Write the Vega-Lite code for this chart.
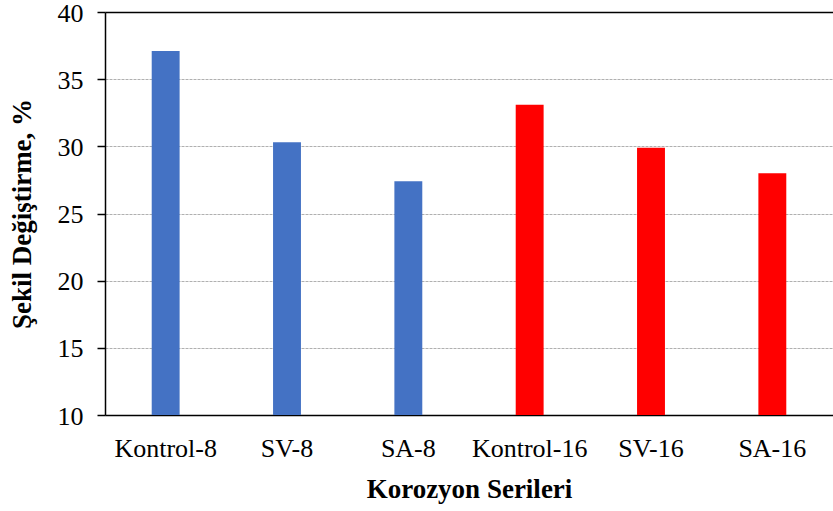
{
  "$schema": "https://vega.github.io/schema/vega-lite/v6.json",
  "width": 728,
  "height": 403,
  "autosize": {"type": "none"},
  "padding": {"left": 105, "top": 12, "right": 0, "bottom": 96},
  "background": "white",
  "data": {"values": [
    {"seri": "Kontrol-8", "deger": 37.1, "grup": "8"},
    {"seri": "SV-8", "deger": 30.3, "grup": "8"},
    {"seri": "SA-8", "deger": 27.4, "grup": "8"},
    {"seri": "Kontrol-16", "deger": 33.1, "grup": "16"},
    {"seri": "SV-16", "deger": 29.9, "grup": "16"},
    {"seri": "SA-16", "deger": 28.0, "grup": "16"}
  ]},
  "config": {
    "view": {"stroke": null},
    "font": "Liberation Serif"
  },
  "mark": {"type": "bar", "clip": true},
  "encoding": {
    "x": {
      "field": "seri", "type": "nominal", "sort": null,
      "scale": {"paddingInner": 0.77, "paddingOuter": 0.385},
      "axis": {
        "title": "Korozyon Serileri",
        "titleFont": "Liberation Serif", "titleFontSize": 27, "titleFontWeight": "bold", "titleColor": "black",
        "titlePadding": 15,
        "labelFont": "Liberation Serif", "labelFontSize": 26, "labelColor": "black", "labelAngle": 0,
        "labelPadding": 20,
        "ticks": false,
        "domainColor": "black", "domainWidth": 1.5
      }
    },
    "y": {
      "field": "deger", "type": "quantitative",
      "scale": {"domain": [10, 40], "nice": false, "zero": false},
      "axis": {
        "title": "Şekil Değiştirme, %",
        "titleFont": "Liberation Serif", "titleFontSize": 27, "titleFontWeight": "bold", "titleColor": "black",
        "titlePadding": 21,
        "values": [10, 15, 20, 25, 30, 35, 40],
        "labelFont": "Liberation Serif", "labelFontSize": 26, "labelColor": "black",
        "labelPadding": 14,
        "labelOffset": 1,
        "tickColor": "black", "tickSize": 8, "tickWidth": 1.5,
        "domainColor": "black", "domainWidth": 1.5,
        "grid": true,
        "gridColor": {"condition": {"test": "datum.value == 40", "value": "black"}, "value": "#b0b0b0"},
        "gridWidth": {"condition": {"test": "datum.value == 40", "value": 1.5}, "value": 1},
        "gridDash": {"condition": {"test": "datum.value == 40", "value": []}, "value": [3, 1]}
      }
    },
    "color": {
      "field": "grup", "type": "nominal",
      "scale": {"domain": ["8", "16"], "range": ["#4472C4", "#FF0000"]},
      "legend": null
    }
  }
}
